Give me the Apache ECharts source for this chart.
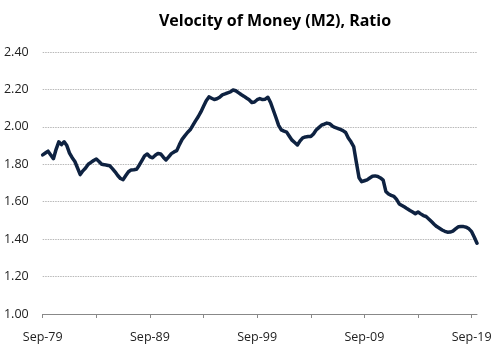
<!DOCTYPE html>
<html>
<head>
<meta charset="utf-8">
<script src="https://cdn.jsdelivr.net/npm/echarts@6/dist/echarts.min.js"></script>
<style>
html,body{margin:0;padding:0;background:#fff;}
#chart{width:500px;height:346px;}
</style>
</head>
<body>
<div id="chart"></div>
<script>
// Quarterly velocity of M2, starting Sep-79 (quarter-end labels)
const startYear = 1979;
const monthNames = ['Sep', 'Dec', 'Mar', 'Jun'];
const velocity = [
  1.85, 1.86, 1.87, 1.85, 1.83, 1.88, 1.92, 1.905, 1.92, 1.90,
  1.86, 1.835, 1.815, 1.78, 1.745, 1.765, 1.78, 1.80, 1.81, 1.82,
  1.828, 1.815, 1.80, 1.798, 1.795, 1.792, 1.777, 1.76, 1.74, 1.724,
  1.718, 1.74, 1.76, 1.77, 1.771, 1.773, 1.795, 1.82, 1.845, 1.855,
  1.84, 1.835, 1.848, 1.858, 1.855, 1.838, 1.823, 1.84, 1.857, 1.866,
  1.873, 1.905, 1.933, 1.952, 1.97, 1.984, 2.008, 2.032, 2.054, 2.08,
  2.11, 2.14, 2.16, 2.153, 2.146, 2.15, 2.158, 2.171, 2.176, 2.182,
  2.187, 2.197, 2.193, 2.183, 2.173, 2.164, 2.154, 2.145, 2.13, 2.133,
  2.145, 2.151, 2.146, 2.148, 2.158, 2.13, 2.09, 2.05, 2.008, 1.984,
  1.977, 1.972, 1.95, 1.929, 1.916, 1.903, 1.925, 1.941, 1.946, 1.948,
  1.948, 1.962, 1.983, 1.996, 2.009, 2.014, 2.02, 2.017, 2.005, 1.997,
  1.992, 1.986, 1.98, 1.97, 1.94, 1.92, 1.895, 1.81, 1.728, 1.707,
  1.712, 1.717, 1.727, 1.736, 1.738, 1.735, 1.727, 1.715, 1.655, 1.641,
  1.634, 1.629, 1.612, 1.588, 1.58, 1.572, 1.562, 1.553, 1.545, 1.536,
  1.545, 1.535, 1.526, 1.521, 1.508, 1.494, 1.48, 1.467, 1.458, 1.449,
  1.442, 1.437, 1.438, 1.443, 1.455, 1.466, 1.467, 1.467, 1.464, 1.455,
  1.44, 1.41, 1.378
];
const yTicks = [1.00, 1.20, 1.40, 1.60, 1.80, 2.00, 2.20, 2.40];
const titleText = 'Velocity of Money (M2), Ratio';

const categories = [];
for (let i = 0; i < velocity.length; i++) {
  const m = monthNames[i % 4];
  const yr = startYear + Math.floor((i + 2) / 4);
  categories.push(m + '-' + String(yr % 100).padStart(2, '0'));
}

const chart = echarts.init(document.getElementById('chart'), null, {renderer: 'canvas'});
chart.setOption({
  animation: false,
  backgroundColor: '#ffffff',
  title: {
    text: titleText,
    left: 270,
    textAlign: 'center',
    top: 8,
    textStyle: {fontFamily: 'Open Sans', fontWeight: 'bold', fontSize: 16, color: '#000'}
  },
  grid: {left: 42.7, right: 23, top: 52, bottom: 32, containLabel: false},
  xAxis: {
    type: 'category',
    data: categories,
    boundaryGap: false,
    axisLine: {show: true, lineStyle: {color: '#888', width: 1}},
    axisTick: {show: true, interval: 19, length: 4, inside: false, lineStyle: {color: '#888'}},
    axisLabel: {interval: 39, margin: 17, fontFamily: 'Open Sans', fontSize: 12.5, color: '#222'},
    splitLine: {show: false}
  },
  yAxis: {
    type: 'value',
    min: yTicks[0],
    max: yTicks[yTicks.length - 1],
    interval: 0.2,
    axisLine: {show: false},
    axisTick: {show: false},
    axisLabel: {margin: 14, fontFamily: 'Open Sans', fontSize: 12.5, color: '#222',
      formatter: v => v.toFixed(2)},
    splitLine: {show: true, lineStyle: {color: '#b8b8b8', type: [1.5, 1], width: 1}}
  },
  series: [{
    type: 'line',
    data: velocity,
    showSymbol: false,
    smooth: false,
    lineStyle: {color: '#0e2241', width: 3.5, join: 'round', cap: 'round'},
    z: 3
  }]
});
</script>
</body>
</html>
